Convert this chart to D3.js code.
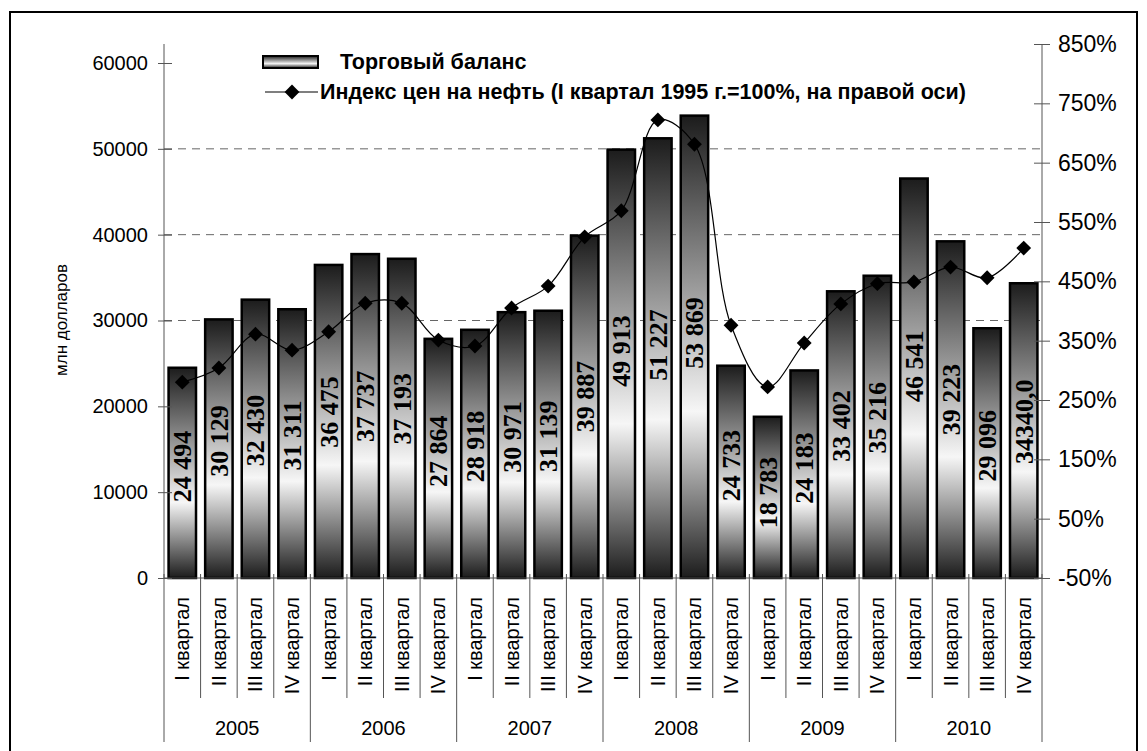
<!DOCTYPE html>
<html>
<head>
<meta charset="utf-8">
<script src="https://cdn.jsdelivr.net/npm/d3@7"></script>
<style>
  body { margin: 0; background: #fff; }
  svg { display: block; }
  text { font-family: "Liberation Sans", Arial, sans-serif; fill: #000; }
</style>
</head>
<body>
<svg id="chart" width="1147" height="751"></svg>
<script>
const years = ["2005", "2006", "2007", "2008", "2009", "2010"];
const quarters = ["I квартал", "II квартал", "III квартал", "IV квартал"];

// торговый баланс, млн долларов (по кварталам 2005-2010)
const balance = [
  24494, 30129, 32430, 31311,
  36475, 37737, 37193, 27864,
  28918, 30971, 31139, 39887,
  49913, 51227, 53869, 24733,
  18783, 24183, 33402, 35216,
  46541, 39223, 29096, 34340
];
const balanceLabels = [
  "24 494", "30 129", "32 430", "31 311",
  "36 475", "37 737", "37 193", "27 864",
  "28 918", "30 971", "31 139", "39 887",
  "49 913", "51 227", "53 869", "24 733",
  "18 783", "24 183", "33 402", "35 216",
  "46 541", "39 223", "29 096", "34340,0"
];
// индекс цен на нефть, % (правая ось)
const oilIndex = [
  280, 304, 361, 334,
  365, 413, 413, 351,
  341, 405, 442, 525,
  569, 722, 681, 376,
  272, 346, 412, 446,
  449, 474, 456, 506
];
const leftTicks = [0, 10000, 20000, 30000, 40000, 50000, 60000];
const rightTicks = [-50, 50, 150, 250, 350, 450, 550, 650, 750, 850];
const gridValues = [30000, 40000, 50000];

const svg = d3.select("#chart");
const plotLeft = 164, plotRight = 1042, plotTop = 44, plotBottom = 578;

const keys = [];
years.forEach((y) => quarters.forEach((q) => keys.push(y + "|" + q)));

const x = d3.scaleBand().domain(keys).range([plotLeft, plotRight])
  .paddingInner(0.25).paddingOuter(0.125);
const step = x.step();
const cx = (i) => x(keys[i]) + x.bandwidth() / 2;
const yL = d3.scaleLinear().domain([0, 60000]).range([plotBottom, 63]);
const yR = d3.scaleLinear().domain([-50, 850]).range([plotBottom, plotTop]);

// gradient for bars
const defs = svg.append("defs");
const grad = defs.append("linearGradient").attr("id", "barGrad")
  .attr("x1", 0).attr("y1", 0).attr("x2", 0).attr("y2", 1);
grad.append("stop").attr("offset", "0%").attr("stop-color", "#1c1c1c");
grad.append("stop").attr("offset", "64%").attr("stop-color", "#f6f6f6");
grad.append("stop").attr("offset", "100%").attr("stop-color", "#1c1c1c");

// outer frame
svg.append("rect")
  .attr("x", 10).attr("y", 12).attr("width", 1127).attr("height", 760)
  .attr("fill", "none").attr("stroke", "#000").attr("stroke-width", 2);

// grid lines
svg.append("g").selectAll("line").data(gridValues).join("line")
  .attr("x1", plotLeft).attr("x2", plotRight)
  .attr("y1", (d) => yL(d)).attr("y2", (d) => yL(d))
  .attr("stroke", "#666").attr("stroke-width", 1)
  .attr("stroke-dasharray", "8,6");

// bars
svg.append("g").selectAll("rect").data(balance).join("rect")
  .attr("x", (d, i) => x(keys[i]))
  .attr("y", (d) => yL(d))
  .attr("width", x.bandwidth())
  .attr("height", (d) => yL(0) - yL(d))
  .attr("fill", "url(#barGrad)")
  .attr("stroke", "#000").attr("stroke-width", 2.5);

// bar value labels
svg.append("g").selectAll("text").data(balance).join("text")
  .attr("transform", (d, i) => `translate(${cx(i) + 9},${yL(d * 0.53)}) rotate(-90)`)
  .attr("text-anchor", "middle")
  .style("font-family", '"Liberation Serif", "Times New Roman", serif')
  .style("font-weight", "bold")
  .style("font-size", "26px")
  .text((d, i) => balanceLabels[i]);

// oil index line
const line = d3.line()
  .x((d, i) => cx(i))
  .y((d) => yR(d))
  .curve(d3.curveCatmullRom.alpha(0.5));
svg.append("path").datum(oilIndex)
  .attr("d", line)
  .attr("fill", "none").attr("stroke", "#000").attr("stroke-width", 1.2);

const diamond = d3.symbol().type(d3.symbolSquare).size(110);
svg.append("g").selectAll("path").data(oilIndex).join("path")
  .attr("d", diamond)
  .attr("transform", (d, i) => `translate(${cx(i)},${yR(d)}) rotate(45)`)
  .attr("fill", "#000");

// left axis
const gLeft = svg.append("g").attr("transform", `translate(${plotLeft},0)`)
  .call(d3.axisLeft(yL).tickValues(leftTicks).tickFormat(d3.format("d"))
    .tickSize(6).tickPadding(10));
gLeft.select(".domain").remove();
gLeft.append("line").attr("y1", plotTop).attr("y2", plotBottom).attr("stroke", "#555");
gLeft.selectAll(".tick line").attr("x2", 8).attr("x1", -6).attr("stroke", "#555");
gLeft.selectAll(".tick text").style("font-size", "20px")
  .style("font-family", '"Liberation Sans", Arial, sans-serif');

// right axis
const gRight = svg.append("g").attr("transform", `translate(${plotRight},0)`)
  .call(d3.axisRight(yR).tickValues(rightTicks).tickFormat((d) => d + "%")
    .tickSize(8).tickPadding(8));
gRight.select(".domain").remove();
gRight.append("line").attr("y1", plotTop).attr("y2", plotBottom).attr("stroke", "#555");
gRight.selectAll(".tick line").attr("x1", -8).attr("x2", 8).attr("stroke", "#555");
gRight.selectAll(".tick text").style("font-size", "23px")
  .style("font-family", '"Liberation Sans", Arial, sans-serif');

// category axis
const gCat = svg.append("g");
gCat.append("line").attr("x1", plotLeft).attr("x2", plotRight)
  .attr("y1", plotBottom).attr("y2", plotBottom).attr("stroke", "#555");
const bounds = d3.range(keys.length + 1);
gCat.selectAll("line.sep").data(bounds).join("line").attr("class", "sep")
  .attr("x1", (i) => plotLeft + i * step).attr("x2", (i) => plotLeft + i * step)
  .attr("y1", plotBottom - 4)
  .attr("y2", (i) => (i % 4 === 0 ? 742 : 698))
  .attr("stroke", "#555");
gCat.selectAll("text.q").data(keys).join("text").attr("class", "q")
  .attr("transform", (d, i) => `translate(${cx(i) + 7},597) rotate(-90)`)
  .attr("text-anchor", "end")
  .style("font-size", "20px")
  .text((d) => d.split("|")[1]);
gCat.selectAll("text.y").data(years).join("text").attr("class", "y")
  .attr("x", (d, i) => plotLeft + (i * 4 + 2) * step)
  .attr("y", 735)
  .attr("text-anchor", "middle")
  .style("font-size", "20px")
  .text((d) => d);

// left axis title
svg.append("text")
  .attr("transform", `translate(67,320) rotate(-90)`)
  .attr("text-anchor", "middle")
  .style("font-size", "17px")
  .text("млн долларов");

// legend
const lg = svg.append("g");
lg.append("rect").attr("x", 263).attr("y", 56).attr("width", 55).attr("height", 12)
  .attr("fill", "url(#barGrad)").attr("stroke", "#000").attr("stroke-width", 2);
lg.append("text").attr("x", 340).attr("y", 69)
  .style("font-size", "21.5px").style("font-weight", "bold")
  .text("Торговый баланс");
lg.append("line").attr("x1", 265).attr("x2", 318).attr("y1", 92).attr("y2", 92)
  .attr("stroke", "#000").attr("stroke-width", 1.2);
lg.append("path").attr("d", diamond)
  .attr("transform", "translate(292,92) rotate(45)").attr("fill", "#000");
lg.append("text").attr("x", 320).attr("y", 99)
  .style("font-size", "21.5px").style("font-weight", "bold")
  .text("Индекс цен на нефть (I квартал 1995 г.=100%, на правой оси)");
</script>
</body>
</html>
